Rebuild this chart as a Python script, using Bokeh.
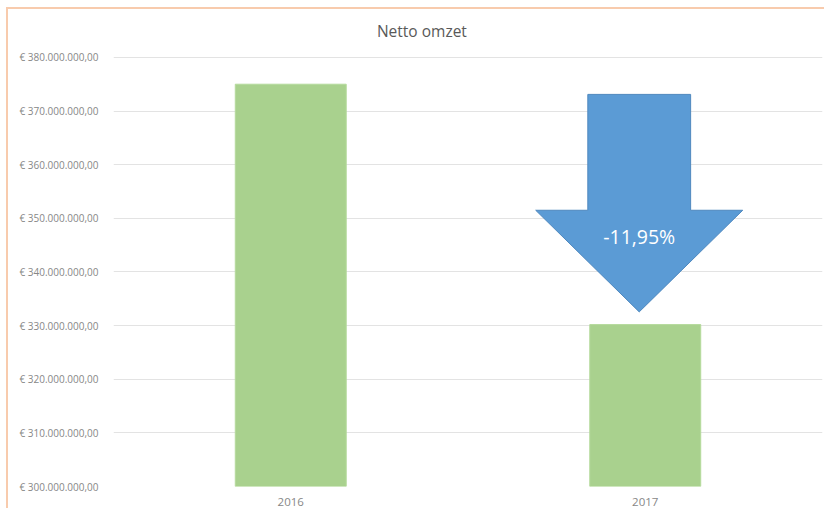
from bokeh.plotting import figure
from bokeh.models import FactorRange, Range1d, FixedTicker, Label
from bokeh.embed import file_html
from bokeh.resources import INLINE

# ---- data ----
title_text = "Netto omzet"
years = ["2016", "2017"]
omzet = [375_000_000, 330_187_500]
y_ticks = [300_000_000, 310_000_000, 320_000_000, 330_000_000, 340_000_000,
           350_000_000, 360_000_000, 370_000_000, 380_000_000]

# ---- layout of annotations ----
y_top = 389_300_000            # headroom above last tick, holds the title
title_x, title_y = 0.87, 385_000_000
arrow_center_offset = -0.017   # from 2017 category centre
shaft_half = 0.145
head_half = 0.292
arrow_top = 373_100_000
head_base = 351_500_000
arrow_tip = 332_550_000
label_y = 346_700_000

change = (omzet[1] - omzet[0]) / omzet[0] * 100
change_text = f"{change:.2f}%".replace(".", ",")


def euro(v):
    s = f"{v:,.2f}"  # 380,000,000.00
    s = s.replace(",", "X").replace(".", ",").replace("X", ".")
    return "€ " + s


FONT = "Open Sans"
LABEL_COLOR = "#878787"
EDGE = "#F8CBAD"

p = figure(x_range=FactorRange(*years), y_range=Range1d(y_ticks[0], y_top),
           width=818, height=501, output_backend="svg", toolbar_location=None,
           min_border_left=107, min_border_right=2, min_border_top=0, min_border_bottom=21)
p.border_fill_color = None
p.styles = {"margin-left": "6px", "margin-top": "7px",
            "background-color": "white",
            "background-image": f"linear-gradient({EDGE}, {EDGE}), linear-gradient({EDGE}, {EDGE})",
            "background-size": "2px 100%, 100% 2px",
            "background-position": "0 0, 0 0",
            "background-repeat": "no-repeat"}
p.background_fill_color = None

p.add_layout(Label(x=title_x, y=title_y, text=title_text, text_align="center",
                   text_baseline="middle", text_font=FONT, text_font_size="15.5px",
                   text_color="#595959"))

p.vbar(x=years, top=omzet, bottom=y_ticks[0], width=0.313,
       fill_color="#A9D18E", line_color="#B5DA9C", line_width=1)

# arrow
cx = 1.5 + arrow_center_offset
ax = [cx - shaft_half, cx + shaft_half, cx + shaft_half, cx + head_half, cx,
      cx - head_half, cx - shaft_half]
ay = [arrow_top, arrow_top, head_base, head_base, arrow_tip, head_base, head_base]
p.patch(ax, ay, fill_color="#5B9BD5", line_color="#4F88BE", line_width=1)
p.add_layout(Label(x=cx, y=label_y, text=change_text, text_align="center",
                   text_baseline="middle", text_color="white", text_font=FONT,
                   text_font_size="19.5px"))

# axes
p.yaxis.ticker = FixedTicker(ticks=y_ticks)
p.yaxis.major_label_overrides = {t: euro(t) for t in y_ticks}
for ax_ in (p.xaxis, p.yaxis):
    ax_.axis_line_color = None
    ax_.major_tick_line_color = None
    ax_.minor_tick_line_color = None
    ax_.major_label_text_font = FONT
    ax_.major_label_text_color = LABEL_COLOR
p.yaxis.major_label_text_font_size = "10px"
p.yaxis.major_label_standoff = 9
p.xaxis.major_label_text_font_size = "11.5px"
p.xaxis.major_label_standoff = 5

p.xgrid.grid_line_color = None
p.ygrid.grid_line_color = "#E3E3E3"
p.ygrid.grid_line_width = 1
p.outline_line_color = None
p.x_range.range_padding = 0

open("out.html", "w").write(file_html(p, INLINE))
